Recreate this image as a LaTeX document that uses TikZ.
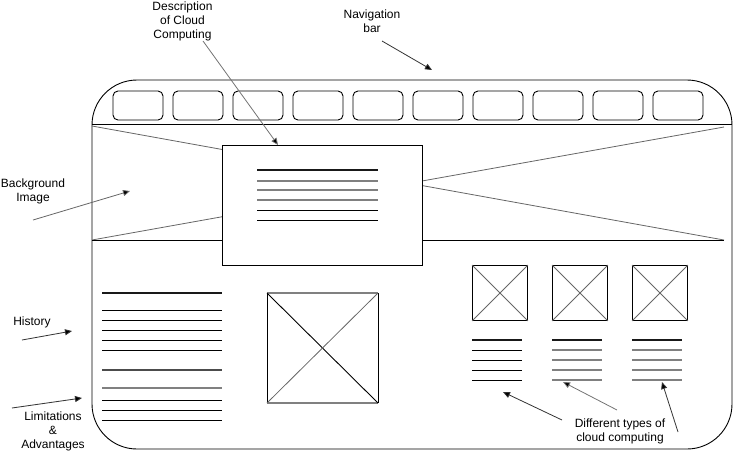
\documentclass[tikz,border=0pt]{standalone}
\usepackage{fontspec}
\setmainfont{Liberation Sans}
\usetikzlibrary{arrows.meta}
\begin{document}
\begin{tikzpicture}[x=1pt,y=-1pt,
  lbl/.style={align=center,inner sep=0pt,font=\fontsize{12}{14}\selectfont},
  arr/.style={draw=black!80,line width=0.8pt,-{Triangle[length=7pt,width=6pt,fill=black]}},
  frame/.style={draw=black,line width=0.9pt},
  btn/.style={draw=black,line width=0.9pt,rounded corners=5pt,minimum width=50pt,minimum height=29pt,inner sep=0pt},
  thk/.style={line width=1.8pt,draw=black!90},
  thkg/.style={line width=1.8pt,draw=black!50},
  thn/.style={line width=0.9pt,draw=black},
  xln/.style={line width=0.8pt,draw=black!60},
  imgbox/.style={draw=black,line width=0.9pt,inner sep=0pt,minimum width=55pt,minimum height=55pt}
]
\useasboundingbox (0,0) rectangle (733,451);
% outer frame
\draw[frame,rounded corners=45pt] (92,80) rectangle (732,449);
\draw[frame] (92,124) -- (732,124);
% nav buttons
\foreach \i in {0,...,9} \node[btn] (b\i) at ({138+60*\i},105.5) {};
% background image
\draw[xln] (92,126) -- (724,240);
\draw[xln] (92,240) -- (724,127);
\draw[frame] (92,240) -- (724,240);
% description box
\node[frame,fill=white,minimum width=200pt,minimum height=120pt,inner sep=0pt] (desc) at (322,205) {};
\draw[thk] (257,170) -- (378,170);
\foreach \y in {181,190,200} \draw[thkg] (257,\y) -- (378,\y);
\foreach \y in {210,220} \draw[thn] (257,\y) -- (378,\y);
% left text block
\draw[thk] (102,293) -- (222,293);
\foreach \y in {310,320,330,340,350} \draw[thn] (102,\y) -- (222,\y);
\draw[line width=1.8pt,draw=black!70] (102,370) -- (222,370);
\draw[thkg] (102,388) -- (222,388);
\foreach \y in {400,410,420} \draw[thn] (102,\y) -- (222,\y);
% big image placeholder
\draw[thn] (267,293) -- (267,403);
\draw[thn] (378,293) -- (378,403);
\draw[thkg] (267,293) -- (378,293);
\draw[thkg] (267,403) -- (378,403);
\draw[thn] (267,293) -- (378,403);
\draw[xln] (267,403) -- (378,293);
% right image placeholders
\foreach \x/\n in {500/1,580/2,660/3}{
  \node[imgbox] (im\n) at (\x,293) {};
  \draw[xln] (im\n.north west) -- (im\n.south east);
  \draw[xln] (im\n.south west) -- (im\n.north east);
}
% text under right images
\draw[thk] (472,340) -- (522,340);
\foreach \y in {350,360,370,380} \draw[thn] (472,\y) -- (522,\y);
\foreach \x in {552,632}{
  \draw[thk] (\x,340) -- (\x+50,340);
  \foreach \y in {350,360,370,380} \draw[thkg] (\x,\y) -- (\x+50,\y);
}
% labels
\node[lbl] (ldesc) at (182.5,21) {Description\\of Cloud\\Computing};
\node[lbl] (lnav) at (372,21.5) {Navigation\\bar};
\node[lbl] (lbg) at (33,191) {Background\\Image};
\node[lbl] (lhist) at (32,322) {History};
\node[lbl] (llim) at (53,431) {Limitations\\\&\\Advantages};
\node[lbl] (ltypes) at (620,431.5) {Different types of\\cloud computing};
% arrow coordinates
\coordinate (d0) at (203,41); \coordinate (d1) at (278,145);
\coordinate (n0) at (382,41); \coordinate (n1) at (432,70);
\coordinate (g0) at (33,220); \coordinate (g1) at (130,191);
\coordinate (h0) at (22,340); \coordinate (h1) at (72,331);
\coordinate (m0) at (12,408); \coordinate (m1) at (82,398);
\coordinate (t0) at (562,420); \coordinate (t1) at (503,392);
\coordinate (u0) at (617,410); \coordinate (u1) at (563,382);
\coordinate (v0) at (678,432); \coordinate (v1) at (662,382);
\draw[arr,draw=black!55] (d0) -- (d1);
\draw[arr] (n0) -- (n1);
\draw[arr,draw=black!60] (g0) -- (g1);
\draw[arr] (h0) -- (h1);
\draw[arr] (m0) -- (m1);
\draw[arr] (t0) -- (t1);
\draw[arr,draw=black!55] (u0) -- (u1);
\draw[arr] (v0) -- (v1);
\end{tikzpicture}
\end{document}
